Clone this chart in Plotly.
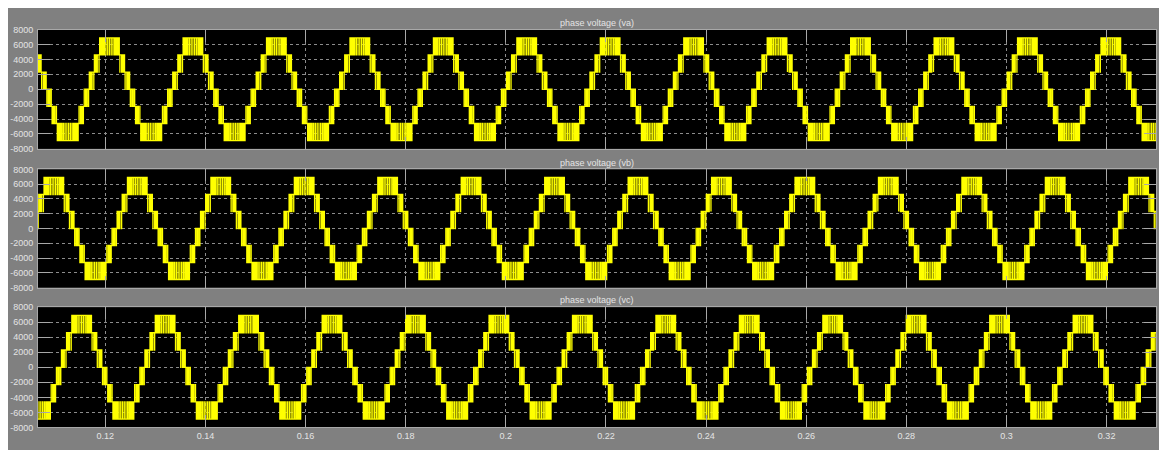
import numpy as np
import plotly.graph_objects as go

# ---------------- data ----------------
FUNDAMENTAL_HZ = 60          # 1 cycle ~ 83.5 px, 0.02 s ~ 100 px
SLOT_DEG = 7.5               # width of one switching slot (48 per cycle)
STEP_V = 2300                # height of one level step (7-level output)

# One cycle of va, 48 switching slots starting at the rising zero crossing:
# lower level of the slot and fraction of the slot spent one step higher
SLOT_BASE_V = [0, 0, 0, 2300, 2300, 2300, 4600, 4600, 4600, 4600, 4600, 4600,
               4600, 4600, 4600, 4600, 4600, 4600, 2300, 2300, 2300, 0, 0, 0,
               -2300, -2300, -2300, -4600, -4600, -4600, -6900, -6900, -6900, -6900, -6900, -6900,
               -6900, -6900, -6900, -6900, -6900, -6900, -4600, -4600, -4600, -2300, -2300, -2300]
SLOT_DUTY = [0.20, 0.59, 0.98, 0.35, 0.69, 0.99, 0.29, 0.53, 0.73, 0.88, 0.98, 0.99,
             0.99, 0.98, 0.88, 0.73, 0.53, 0.29, 0.99, 0.69, 0.35, 0.98, 0.59, 0.20,
             0.80, 0.41, 0.02, 0.65, 0.31, 0.01, 0.71, 0.47, 0.27, 0.12, 0.02, 0.01,
             0.01, 0.02, 0.12, 0.27, 0.47, 0.71, 0.01, 0.31, 0.65, 0.02, 0.41, 0.80]

PHASE_TITLES = ["phase voltage (va)", "phase voltage (vb)", "phase voltage (vc)"]
PHASE_LAG_DEG = [0, 120, 240]

T_START, T_END = 0.10656, 0.32986
X_TICKS = [0.12, 0.14, 0.16, 0.18, 0.20, 0.22, 0.24, 0.26, 0.28, 0.30, 0.32]
X_TICK_TEXT = ["0.12", "0.14", "0.16", "0.18", "0.2", "0.22", "0.24", "0.26", "0.28", "0.3", "0.32"]
Y_TICKS = [8000, 6000, 4000, 2000, 0, -2000, -4000, -6000, -8000]
Y_TICK_TEXT = ["8000", "6000", "4000", "2000", "0", "-2000", "-4000", "-6000", "-8000"]

# ---------------- build the switched waveform from the slot table ----------------
def phase_wave(lag_deg):
    deg_per_s = 360.0 * FUNDAMENTAL_HZ
    ts = SLOT_DEG / deg_per_s
    n0 = int(np.floor((T_START * deg_per_s - lag_deg) / SLOT_DEG)) - 1
    n1 = int(np.ceil((T_END * deg_per_s - lag_deg) / SLOT_DEG)) + 1
    n_slots = len(SLOT_BASE_V)
    t, v = [], []
    for n in range(n0, n1 + 1):
        k = n % n_slots
        base = SLOT_BASE_V[k]
        d = SLOT_DUTY[k]
        t0 = (n * SLOT_DEG + lag_deg) / deg_per_s
        t += [t0, t0 + (1 - d) / 2 * ts, t0 + (1 + d) / 2 * ts]
        v += [base, base + STEP_V, base]
    return t, v

# ---------------- figure (page body adds an 8 px white margin top/left) ----------------
OFF = 8
W, H = 1167 - OFF, 450 - OFF
PLOT_L, PLOT_R = 38 - OFF, 1156 - OFF
PANELS_PX = [(25 - OFF, 147 - OFF), (168 - OFF, 289 - OFF), (309 - OFF, 432 - OFF)]
TITLE_Y_PX = [18 - OFF, 161 - OFF, 302 - OFF]

fig = go.Figure()
font_family = "Liberation Sans, Arial, sans-serif"
label_color = "#e4e4e4"

for i, lag in enumerate(PHASE_LAG_DEG):
    t, v = phase_wave(lag)
    ax = "" if i == 0 else str(i + 1)
    fig.add_trace(go.Scatter(x=t, y=v, mode="lines", line=dict(color="#ffff00", width=1.3, shape="hv"),
                             xaxis="x" + ax, yaxis="y" + ax, showlegend=False, hoverinfo="skip"))
    top, bot = PANELS_PX[i]
    common = dict(showline=True, linecolor="#a8a8a8", linewidth=1, mirror="ticks",
                  ticks="inside", ticklen=12, tickcolor="#a8a8a8", tickwidth=1,
                  showgrid=True, gridcolor="#8c8c8c", griddash="dot", gridwidth=1,
                  zeroline=False, tickfont=dict(family=font_family, size=9, color=label_color))
    fig.update_layout(**{
        "xaxis" + ax: dict(domain=[PLOT_L / W, PLOT_R / W], range=[T_START, T_END],
                            anchor="y" + ax, tickvals=X_TICKS, ticktext=X_TICK_TEXT,
                            showticklabels=(i == 2), **common),
        "yaxis" + ax: dict(domain=[1 - bot / H, 1 - top / H], range=[-8000, 8000],
                            anchor="x" + ax, tickvals=Y_TICKS, ticktext=Y_TICK_TEXT,
                            ticklabelstandoff=2, **common),
    })
    fig.add_annotation(text=PHASE_TITLES[i], xref="paper", yref="paper",
                       x=(PLOT_L + PLOT_R) / 2 / W, y=1 - TITLE_Y_PX[i] / H,
                       xanchor="center", yanchor="middle", showarrow=False,
                       font=dict(family=font_family, size=9, color=label_color))

fig.update_layout(width=W, height=H, margin=dict(l=0, r=0, t=0, b=0),
                  paper_bgcolor="#808080", plot_bgcolor="black", showlegend=False)

fig.write_html("out.html")
